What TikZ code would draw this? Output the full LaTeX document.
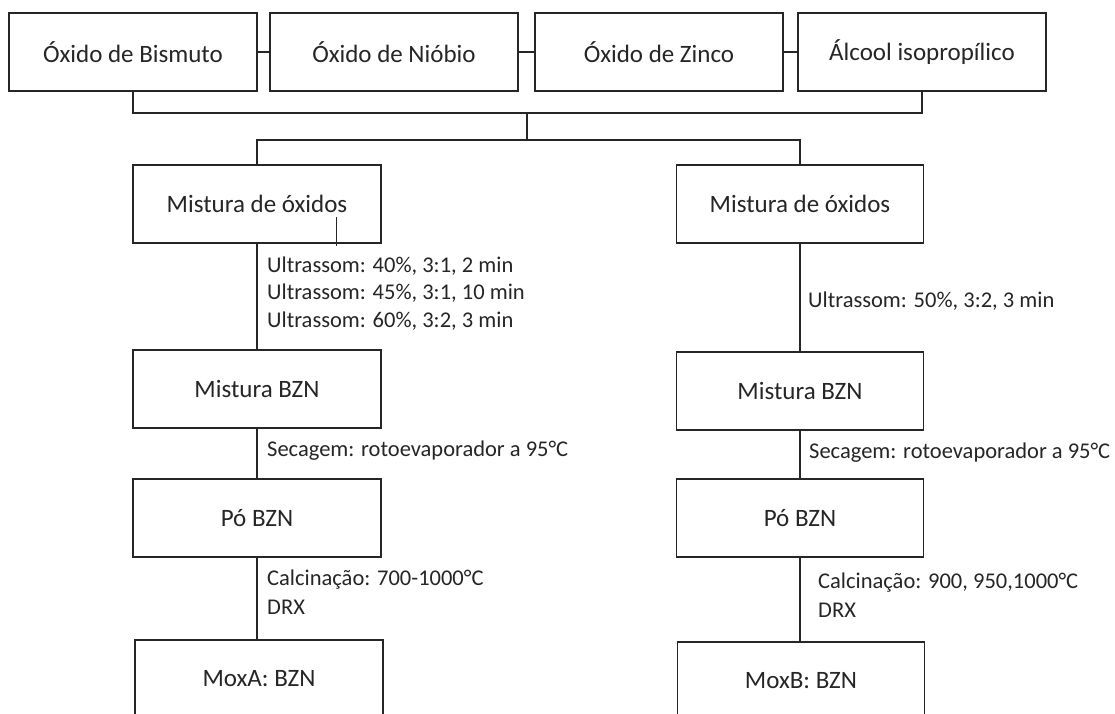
\documentclass[tikz,border=0pt]{standalone}
\usepackage{fontspec}
\setmainfont{Carlito}
\definecolor{ink}{HTML}{262626}
\begin{document}
\begin{tikzpicture}[x=1pt,y=-1pt,
  box/.style={draw=ink,line width=1.4pt,text=ink,minimum height=78pt,inner sep=0pt,
    font=\fontsize{25}{30}\selectfont},
  lbl/.style={anchor=west,inner sep=0pt,text=ink,font=\fontsize{22.5}{27}\selectfont},
  conn/.style={draw=ink,line width=1.4pt}]
\useasboundingbox (0,0) rectangle (1115,713);
\clip (0,0) rectangle (1115,713);
\fill[white] (0,0) rectangle (1115,713);
% top row
\node[box,minimum width=248pt] (b1) at (133,52) {Óxido de Bismuto};
\node[box,minimum width=248pt] (b2) at (394,52) {Óxido de Nióbio};
\node[box,minimum width=248pt] (b3) at (659,52) {Óxido de Zinco};
\node[box,minimum width=248pt] (b4) at (922,52) {Álcool isopropílico};
% left column
\node[box,minimum width=248pt] (mL) at (257,204) {Mistura de óxidos};
\node[box,minimum width=248pt] (zL) at (257,389) {Mistura BZN};
\node[box,minimum width=248pt] (pL) at (257,518) {Pó BZN};
\node[box,minimum width=248pt] (xL) at (259,679) {MoxA: BZN};
% right column
\node[box,minimum width=247pt] (mR) at (800,204) {Mistura de óxidos};
\node[box,minimum width=247pt] (zR) at (800,391) {Mistura BZN};
\node[box,minimum width=247pt] (pR) at (800,518) {Pó BZN};
\node[box,minimum width=247pt] (xR) at (801,681) {MoxB: BZN};
% junctions
\coordinate (j1) at (527,113);
\coordinate (j2) at (527,140);
\coordinate (t1) at (336,217);
\coordinate (t2) at (336,246);
% connectors
\draw[conn] (b1.east) -- (b2.west);
\draw[conn] (b2.east) -- (b3.west);
\draw[conn] (b3.east) -- (b4.west);
\draw[conn] (b1.south) |- (j1) -| (b4.south);
\draw[conn] (j1) -- (j2);
\draw[conn] (mL.north) |- (j2) -| (mR.north);
\draw[conn] (mL.south) -- (zL.north);
\draw[conn] (zL.south) -- (pL.north);
\draw[conn] (pL.south) -- (pL.south |- xL.north);
\draw[conn] (mR.south) -- (zR.north);
\draw[conn] (zR.south) -- (pR.north);
\draw[conn] (pR.south) -- (pR.south |- xR.north);
\draw[draw=ink,line width=1pt] (t1) -- (t2);
% labels
\node[lbl] (u1) at (267,266) {Ultrassom: 40\%, 3:1, 2 min};
\node[lbl] (u2) at (267,293) {Ultrassom: 45\%, 3:1, 10 min};
\node[lbl] (u3) at (267,321) {Ultrassom: 60\%, 3:2, 3 min};
\node[lbl] (sL) at (267,451) {Secagem: rotoevaporador a 95°C};
\node[lbl] (cL) at (267,580) {Calcinação: 700-1000°C};
\node[lbl] (dL) at (267,607) {DRX};
\node[lbl] (uR) at (808,301) {Ultrassom: 50\%, 3:2, 3 min};
\node[lbl] (sR) at (809,453) {Secagem: rotoevaporador a 95°C};
\node[lbl] (cR) at (818,583) {Calcinação: 900, 950,1000°C};
\node[lbl] (dR) at (818,610) {DRX};
\end{tikzpicture}
\end{document}
